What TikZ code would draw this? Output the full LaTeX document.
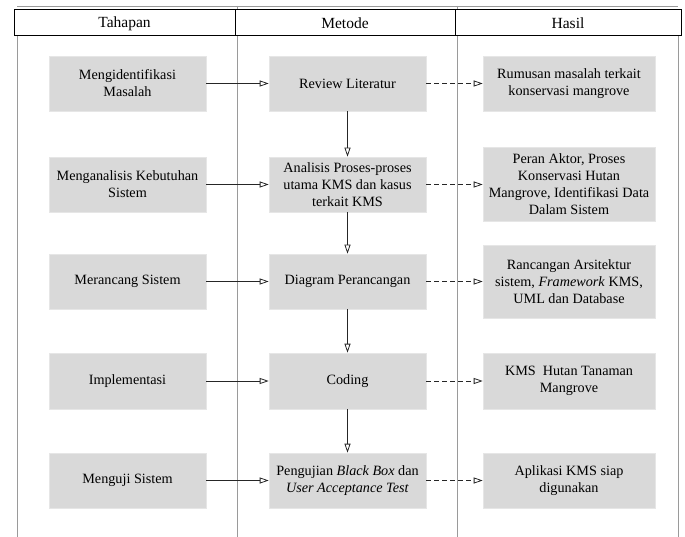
\documentclass[tikz,border=0pt]{standalone}
\usepackage{fontspec}
\setmainfont{Liberation Serif}
\usetikzlibrary{arrows.meta}
\definecolor{boxgray}{HTML}{D9D9D9}
\definecolor{boxedge}{HTML}{E6E6E6}
\definecolor{rulegray}{HTML}{9A9A9A}
\begin{document}
\begin{tikzpicture}[x=1pt,y=-1pt,
  box/.style={fill=boxgray, draw=boxedge, line width=0.6pt, inner sep=0pt, align=center,
    font=\fontsize{14.2}{17}\selectfont, minimum height=55pt},
  lbox/.style={box, minimum width=157pt},
  mbox/.style={box, minimum width=157pt},
  rbox/.style={box, minimum width=172pt},
  headtext/.style={font=\fontsize{15.5}{18}\selectfont, inner sep=0pt},
  rule/.style={draw=rulegray, line width=0.8pt},
  solidarrow/.style={draw=black!85, line width=0.8pt, -{Triangle[open,length=9pt,width=6pt]}},
  dasharrow/.style={solidarrow, dash pattern=on 5pt off 3pt}]
\useasboundingbox (0,0) rectangle (685,537);
% table rules
\draw[rule] (17,6) -- (678,6);
\draw[rule] (237,6) -- (237,10) (457,6) -- (457,10);
\draw[rule] (17,36) -- (17,537);
\draw[rule] (237,36) -- (237,537);
\draw[rule] (457,36) -- (457,537);
\draw[rule] (678,36) -- (678,537);
\draw[line width=1pt] (14,10) rectangle (681,36);
\draw[line width=1pt] (235,10) -- (235,36) (455,10) -- (455,36);
\node[headtext] (h1) at (124.5,23.5) {Tahapan};
\node[headtext] (h2) at (345,23.5) {Metode};
\node[headtext] (h3) at (568,23.5) {Hasil};
% row 1
\node[lbox] (l1) at (127.5,83.5) {Mengidentifikasi\\Masalah};
\node[mbox] (m1) at (347.5,83.5) {Review Literatur};
\node[rbox] (r1) at (569,83.5) {Rumusan masalah terkait\\konservasi mangrove};
% row 2
\node[lbox] (l2) at (127.5,184.5) {Menganalisis Kebutuhan\\Sistem};
\node[mbox] (m2) at (347.5,184.5) {Analisis Proses-proses\\utama KMS dan kasus\\terkait KMS};
\node[rbox, minimum height=74pt] (r2) at (569,184.5) {Peran Aktor, Proses\\Konservasi Hutan\\Mangrove, Identifikasi Data\\Dalam Sistem};
% row 3
\node[lbox] (l3) at (127.5,281.5) {Merancang Sistem};
\node[mbox] (m3) at (347.5,281.5) {Diagram Perancangan};
\node[rbox, minimum height=73pt] (r3) at (569,281.5) {Rancangan Arsitektur\\sistem, \textit{Framework} KMS,\\UML dan Database};
% row 4
\node[lbox, minimum height=56pt] (l4) at (127.5,381) {Implementasi};
\node[mbox, minimum height=56pt] (m4) at (347.5,381) {Coding};
\node[rbox, minimum height=56pt] (r4) at (569,381) {KMS\ \ Hutan Tanaman\\Mangrove};
% row 5
\node[lbox] (l5) at (127.5,480.5) {Menguji Sistem};
\node[mbox] (m5) at (347.5,480.5) {Pengujian \textit{Black Box} dan\\\textit{User Acceptance Test}};
\node[rbox] (r5) at (569,480.5) {Aplikasi KMS siap\\digunakan};
% connectors
\foreach \i in {1,...,5} {
  \draw[solidarrow] (l\i.east) -- (m\i.west);
  \draw[dasharrow] (m\i.east) -- (r\i.west);
}
\draw[solidarrow] (m1.south) -- (m2.north);
\draw[solidarrow] (m2.south) -- (m3.north);
\draw[solidarrow] (m3.south) -- (m4.north);
\draw[solidarrow] (m4.south) -- (m5.north);
\end{tikzpicture}
\end{document}
